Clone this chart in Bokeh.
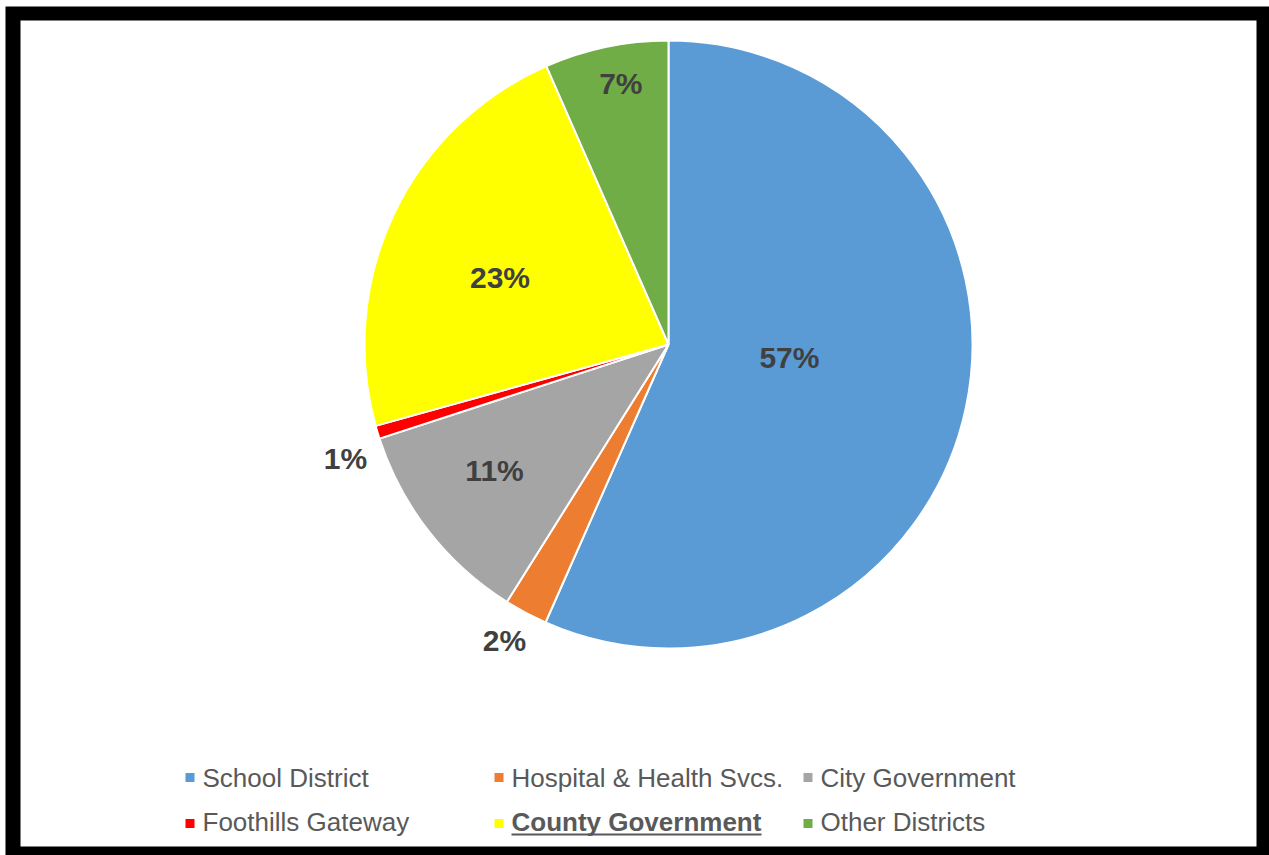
import math
from bokeh.plotting import figure
from bokeh.models import Range1d, ColumnDataSource
from bokeh.core.properties import value
from bokeh.embed import file_html
from bokeh.resources import INLINE

# ---- data ----
categories = ["School District", "Hospital & Health Svcs.", "City Government",
              "Foothills Gateway", "County Government", "Other Districts"]
shares = [56.8, 2.3, 11.1, 0.7, 22.8, 6.6]
colors = ["#5B9BD5", "#ED7D31", "#A5A5A5", "#FF0000", "#FFFF00", "#70AD47"]

# ---- layout / style ----
W, H = 1269, 855
CX, CY, R = 668, 511, 304
LABEL_R = [0.40, 1.113, 0.706, 1.127, 0.597, 0.873]     # radial label placement
LABEL_DA = [-5.8, 1.0, 2.1, -2.7, -3.6, 1.5]             # angular nudge (deg)

p = figure(width=W, height=H, x_range=Range1d(0, W), y_range=Range1d(0, H),
           output_backend="svg", toolbar_location=None, min_border=0)
p.axis.visible = False
p.grid.visible = False
p.outline_line_color = None
p.background_fill_color = "white"
p.border_fill_color = "white"

# black frame with white card inside
p.quad(left=[5], right=[1269], bottom=[0], top=[849], fill_color="black", line_color=None)
p.quad(left=[20], right=[1256], bottom=[9], top=[835], fill_color="white", line_color=None)

total = sum(shares)
fracs = [s / total for s in shares]
cum = [0.0]
for f in fracs:
    cum.append(cum[-1] + f)

starts = [math.pi / 2 - 2 * math.pi * cum[i + 1] for i in range(len(fracs))]
ends = [math.pi / 2 - 2 * math.pi * cum[i] for i in range(len(fracs))]
src = ColumnDataSource(dict(start=starts, end=ends, color=colors))
p.wedge(x=CX, y=CY, radius=R, start_angle="start", end_angle="end",
        direction="anticlock", fill_color="color", line_color="white",
        line_width=2, source=src)

# data labels
lx, ly, lt = [], [], []
for i, f in enumerate(fracs):
    mid = (cum[i] + cum[i + 1]) / 2 * 360 + LABEL_DA[i]
    th = math.radians(mid)
    r = R * LABEL_R[i]
    lx.append(CX + r * math.sin(th))
    ly.append(CY + r * math.cos(th))
    lt.append(f"{round(shares[i])}%")
p.text(x=lx, y=ly, text=lt, text_font=value("Liberation Sans"), text_font_size="30px",
       text_font_style="bold", text_color="#404040", text_align="center",
       text_baseline="middle")

# legend (3 columns x 2 rows)
LEG_X0, LEG_DX = 189.5, 309
LEG_Y0, LEG_DY = 78, 44
for i, cat in enumerate(categories):
    col, row = i % 3, i // 3
    sx = LEG_X0 + LEG_DX * col
    ty = LEG_Y0 - LEG_DY * row
    sy = ty - 2 * row
    p.rect(x=[sx], y=[sy], width=9, height=9, fill_color=colors[i], line_color=None)
    bold = cat == "County Government"
    p.text(x=[sx + 12.5], y=[ty], text=[cat], text_font=value("Liberation Sans"),
           text_font_size="26px", text_font_style="bold" if bold else "normal",
           text_color="#595959", text_align="left", text_baseline="middle")
    if bold:
        p.segment(x0=[sx + 12.5], y0=[ty - 13], x1=[sx + 12.5 + 250], y1=[ty - 13],
                  line_color="#595959", line_width=2)

open("out.html", "w").write(file_html(p, INLINE))
